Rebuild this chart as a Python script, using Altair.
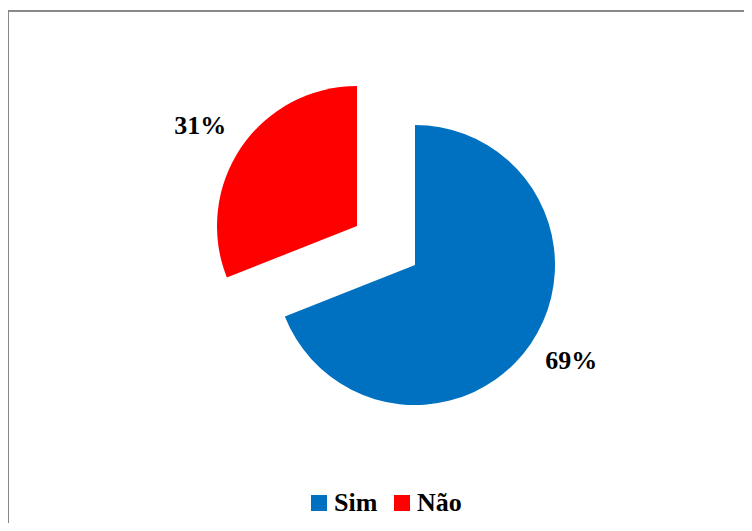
import altair as alt
import pandas as pd

categories = ["Sim", "Não"]
values = [69, 31]
labels = ["69%", "31%"]
colors = ["#0070C0", "#FF0000"]
order = [0, 1]

df = pd.DataFrame({"cat": categories, "val": values, "label": labels, "ord": order})
frame_df = pd.DataFrame({"frame": [0]})

FONT = "Liberation Serif"
cx, cy = 407, 254
ex, ey = -58, -39  # explode offset of the "Não" slice
R = 140

color = alt.Color(
    "cat:N",
    scale=alt.Scale(domain=categories, range=colors),
    sort=categories,
    legend=alt.Legend(
        title=None,
        orient="none",
        legendX=298,
        legendY=479,
        direction="horizontal",
        symbolType="square",
        symbolSize=256,
        symbolStrokeWidth=0,
        labelFont=FONT,
        labelFontSize=26,
        labelFontWeight="bold",
        labelColor="#000000",
        labelOffset=2,
        columnPadding=11,
        padding=0,
    ),
)

frame_left = alt.Chart(frame_df).mark_rule(stroke="#888888", strokeWidth=2).encode(
    x=alt.value(0), y=alt.value(0), y2=alt.value(900)
)
frame_top = alt.Chart(frame_df).mark_rule(stroke="#888888", strokeWidth=2).encode(
    y=alt.value(0), x=alt.value(0), x2=alt.value(900)
)

base = alt.Chart(df).encode(
    theta=alt.Theta("val:Q", stack=True),
    order=alt.Order("ord:Q"),
)

sim_arc = base.mark_arc(outerRadius=R).encode(
    color=color,
    opacity=alt.condition(alt.datum.cat == "Sim", alt.value(1), alt.value(0)),
    x=alt.value(cx),
    y=alt.value(cy),
)

nao_arc = base.mark_arc(outerRadius=R).encode(
    color=color,
    opacity=alt.condition(alt.datum.cat == "Não", alt.value(1), alt.value(0)),
    x=alt.value(cx + ex),
    y=alt.value(cy + ey),
)

sim_text = base.mark_text(
    radius=183, font=FONT, fontSize=26, fontWeight="bold", color="#000000",
    dx=5, dy=-7,
).encode(
    text="label:N",
    opacity=alt.condition(alt.datum.cat == "Sim", alt.value(1), alt.value(0)),
    x=alt.value(cx),
    y=alt.value(cy),
)

nao_text = base.mark_text(
    radius=187, font=FONT, fontSize=26, fontWeight="bold", color="#000000",
    dx=-2, dy=5,
).encode(
    text="label:N",
    opacity=alt.condition(alt.datum.cat == "Não", alt.value(1), alt.value(0)),
    x=alt.value(cx + ex),
    y=alt.value(cy + ey),
)

chart = (
    alt.layer(frame_left, frame_top, sim_arc, nao_arc, sim_text, nao_text)
    .properties(
        width=736,
        height=512,
        padding={"left": 0, "top": 3, "right": 0, "bottom": 0},
        autosize="none",
        background="#ffffff",
    )
    .configure_view(stroke=None)
)

chart.save("out.html", embed_options={"renderer": "svg", "actions": False})
